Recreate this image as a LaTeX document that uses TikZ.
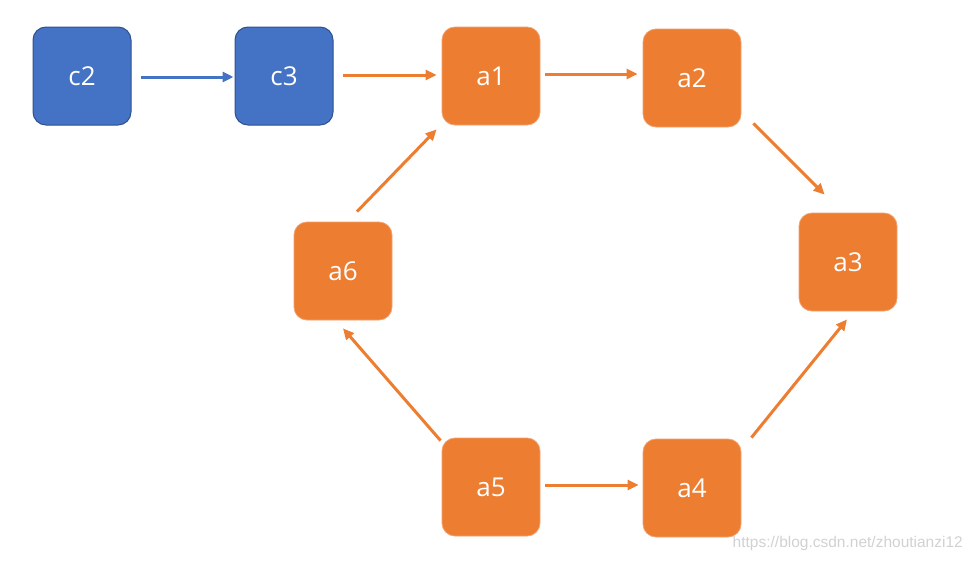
\documentclass[tikz,border=0pt]{standalone}
\usepackage{fontspec}
\setmainfont{Open Sans}
\newfontfamily\wmfont{Liberation Sans}
\usetikzlibrary{arrows.meta,calc}
\definecolor{boxblue}{HTML}{4472C4}
\definecolor{boxblueline}{HTML}{2F528F}
\definecolor{boxorange}{HTML}{ED7D31}
\definecolor{boxorangeline}{HTML}{F2A06E}
\tikzset{
  bluebox/.style={draw=boxblueline, line width=1pt, fill=boxblue, rounded corners=13pt,
    minimum width=98pt, minimum height=98pt, inner sep=0pt, text=white, font=\fontsize{26}{30}\selectfont},
  orangebox/.style={draw=boxorangeline, line width=0.8pt, fill=boxorange, rounded corners=13pt,
    minimum width=98pt, minimum height=98pt, inner sep=0pt, text=white, font=\fontsize{26}{30}\selectfont},
  bluearrow/.style={draw=boxblue, line width=3pt, -{Triangle[length=11pt,width=10pt]}},
  orangearrow/.style={draw=boxorange, line width=3pt, -{Triangle[length=11pt,width=10pt]}},
}
\begin{document}
\begin{tikzpicture}[x=1pt,y=-1pt]
\useasboundingbox (0,0) rectangle (972,562);
\node[bluebox] (c2) at (82,76) {c2};
\node[bluebox] (c3) at (284,76) {c3};
\node[orangebox] (a1) at (491,76) {a1};
\node[orangebox] (a2) at (692,78) {a2};
\node[orangebox] (a3) at (848,262) {a3};
\node[orangebox] (a4) at (692,488) {a4};
\node[orangebox] (a5) at (491,487) {a5};
\node[orangebox] (a6) at (343,271) {a6};

\draw[bluearrow] ($(c2.east)+(9,1)$) -- ($(c3.west)+(-1,1)$);
\draw[orangearrow] ($(c3.east)+(9,-1)$) -- ($(a1.west)+(-5,-1)$);
\draw[orangearrow] ($(a1.east)+(5,-2)$) -- ($(a2.west)+(-5,-4)$);
\draw[orangearrow] ($(a2.south east)+(12,-4)$) -- ($(a3.north west)+(26,-18)$);
\draw[orangearrow] ($(a4.north east)+(10,-1)$) -- ($(a3.south)+(-1,8)$);
\draw[orangearrow] ($(a5.east)+(5,-2)$) -- ($(a4.west)+(-4,-3)$);
\draw[orangearrow] ($(a5.north west)+(-1,3)$) -- ($(a6.south)+(0,8)$);
\draw[orangearrow] ($(a6.north)+(14,-10)$) -- ($(a1.south west)+(-5,4)$);

\node[anchor=east, inner sep=0pt, text=black!18, font=\wmfont\fontsize{15.5}{18}\selectfont] (wm) at (963,543) {https://blog.csdn.net/zhoutianzi12};
\end{tikzpicture}
\end{document}
